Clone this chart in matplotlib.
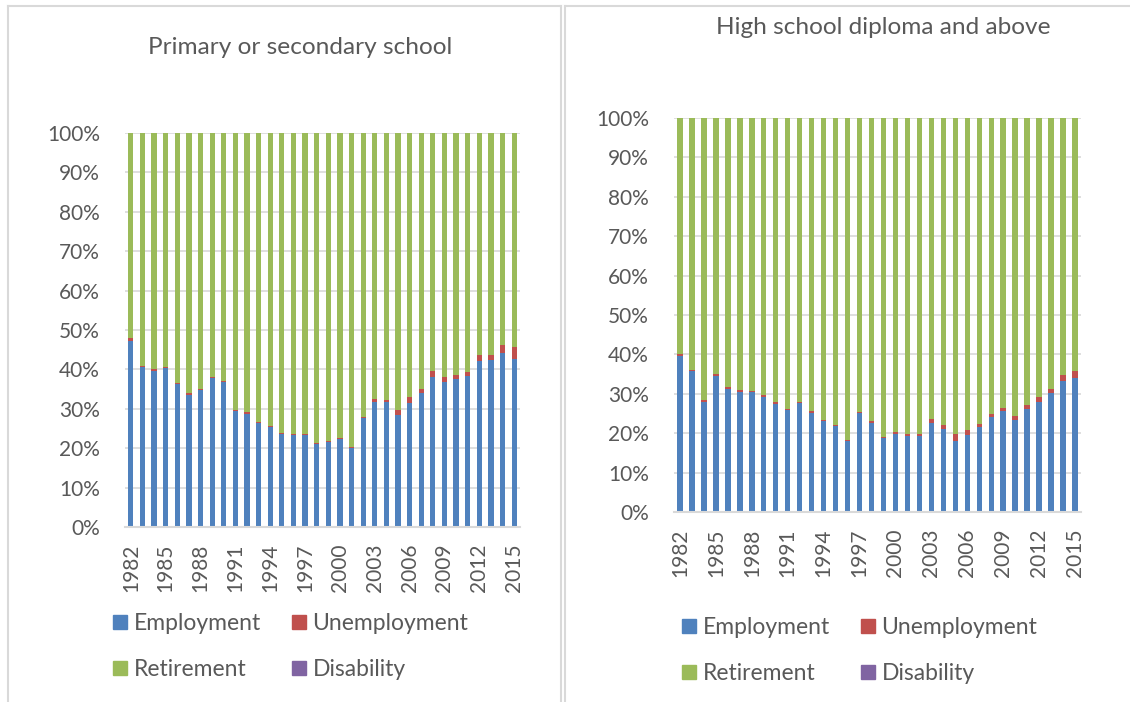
import matplotlib.pyplot as plt
from matplotlib.lines import Line2D
from matplotlib.patches import Patch
from matplotlib.ticker import FuncFormatter
import numpy as np

plt.rcParams['font.family'] = ['Lato', 'DejaVu Sans']

years = list(range(1982, 2016))

# Primary or secondary school, share of each status (%)
prim_employment = [47.2, 40.6, 39.7, 40.3, 36.3, 33.6, 34.7, 37.7, 36.7, 29.5, 28.8, 26.5,
                   25.3, 23.6, 23.3, 23.3, 21.0, 21.5, 22.4, 20.0, 27.6, 31.8, 31.7, 28.5,
                   31.5, 34.0, 38.1, 36.7, 37.5, 38.3, 42.1, 42.4, 44.2, 42.7]
prim_unemployment = [0.8, 0.2, 0.5, 0.4, 0.35, 0.4, 0.4, 0.35, 0.35, 0.25, 0.35, 0.15,
                     0.4, 0.3, 0.3, 0.3, 0.4, 0.4, 0.3, 0.3, 0.4, 0.6, 0.5, 1.1,
                     1.4, 0.9, 1.4, 1.4, 1.2, 1.1, 1.5, 1.3, 1.9, 3.0]
prim_retirement = [52.0, 59.2, 59.8, 59.3, 63.35, 66.0, 64.9, 61.95, 62.95, 70.25, 70.85, 73.35,
                   74.3, 76.1, 76.4, 76.4, 78.6, 78.1, 77.3, 79.7, 72.0, 67.6, 67.8, 70.4,
                   67.1, 65.1, 60.5, 61.9, 61.3, 60.6, 56.4, 56.3, 53.9, 54.3]
prim_disability = [0.0] * 34

# High school diploma and above
high_employment = [39.6, 35.8, 27.9, 34.5, 31.2, 30.5, 30.4, 29.1, 27.4, 25.8, 27.6, 25.2,
                   23.0, 21.9, 17.9, 25.1, 22.7, 18.7, 19.8, 19.4, 19.4, 22.7, 21.0, 18.0,
                   19.5, 21.7, 24.0, 25.6, 23.4, 26.2, 27.9, 30.2, 33.2, 34.1]
high_unemployment = [0.5, 0.25, 0.5, 0.6, 0.4, 0.5, 0.4, 0.7, 0.4, 0.25, 0.4, 0.4,
                     0.25, 0.3, 0.3, 0.3, 0.3, 0.25, 0.4, 0.3, 0.4, 1.0, 1.0, 1.7,
                     1.2, 0.6, 0.85, 0.9, 0.9, 0.85, 1.3, 1.0, 1.5, 1.7]
high_retirement = [59.9, 63.95, 71.6, 64.9, 68.4, 69.0, 69.2, 70.2, 72.2, 73.95, 72.0, 74.4,
                   76.75, 77.8, 81.8, 74.6, 77.0, 81.05, 79.8, 80.3, 80.2, 76.3, 78.0, 80.3,
                   79.3, 77.7, 75.15, 73.5, 75.7, 72.95, 70.8, 68.8, 65.3, 64.2]
high_disability = [0.0] * 34

series_names = ['Employment', 'Unemployment', 'Retirement', 'Disability']
colors = ['#4f81bd', '#c0504d', '#9bbb59', '#8064a2']
text_color = '#595959'
grid_color = '#d9d9d9'

W, H = 1130, 702
fig = plt.figure(figsize=(W / 100, H / 100), dpi=100)


def px_box(x0, y0, x1, y1):
    # pixel box (top-left origin) -> figure fraction rect
    return [x0 / W, 1 - y1 / H, (x1 - x0) / W, (y1 - y0) / H]


def draw_panel(rect, title, title_xy, legend_xy, data):
    ax = fig.add_axes(rect)
    x = np.arange(len(years))
    bottom = np.zeros(len(years))
    for vals, c in zip(data, colors):
        ax.bar(x, vals, width=0.45, bottom=bottom, color=c, linewidth=0)
        bottom += np.array(vals)
    ax.set_xlim(-0.5, len(years) - 0.5)
    ax.set_ylim(0, 100)
    ax.set_yticks(range(0, 101, 10))
    ax.yaxis.set_major_formatter(FuncFormatter(lambda v, p: f'{int(v)}%'))
    ax.set_xticks(x[::3])
    ax.set_xticklabels([str(y) for y in years[::3]], rotation=90)
    ax.tick_params(axis='y', length=0, pad=18, labelsize=15, labelcolor=text_color)
    ax.tick_params(axis='x', length=0, pad=12, labelsize=15, labelcolor=text_color)
    ax.yaxis.grid(True, color=grid_color, linewidth=1.2)
    ax.set_axisbelow(True)
    for s in ['top', 'left', 'right']:
        ax.spines[s].set_visible(False)
    ax.spines['bottom'].set_color(grid_color)
    ax.spines['bottom'].set_linewidth(1.5)

    fig.text(title_xy[0] / W, 1 - title_xy[1] / H, title, ha='center', va='center',
             fontsize=17.6, color=text_color)

    handles = [Patch(color=colors[i]) for i in (0, 2, 1, 3)]
    labels = [series_names[i] for i in (0, 2, 1, 3)]
    fig.legend(handles, labels, loc='upper left',
               bbox_to_anchor=(legend_xy[0] / W, 1 - legend_xy[1] / H),
               ncol=2, frameon=False, fontsize=16.5, labelcolor=text_color,
               handlelength=0.6, handleheight=0.6, handletextpad=0.3,
               columnspacing=1.35, labelspacing=1.1, borderpad=0, borderaxespad=0)
    return ax


draw_panel(px_box(125, 133, 520, 527), 'Primary or secondary school', (300, 48), (113, 613),
           [prim_employment, prim_unemployment, prim_retirement, prim_disability])
draw_panel(px_box(674, 118, 1081, 512), 'High school diploma and above', (883, 28), (682, 617),
           [high_employment, high_unemployment, high_retirement, high_disability])

# chart-area borders
border = dict(color=grid_color, linewidth=1.5)
fig.add_artist(Line2D([8 / W, 8 / W], [1 - 6 / H, 0], **border))
fig.add_artist(Line2D([8 / W, 561 / W], [1 - 6 / H, 1 - 6 / H], **border))
fig.add_artist(Line2D([561 / W, 561 / W], [1 - 6 / H, 0], **border))
fig.add_artist(Line2D([565 / W, 565 / W], [1 - 6 / H, 0], **border))
fig.add_artist(Line2D([565 / W, 1], [1 - 6 / H, 1 - 6 / H], **border))

fig.savefig('out.png', dpi=100)
